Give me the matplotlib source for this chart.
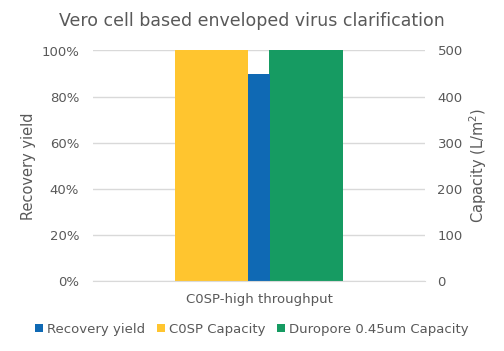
import numpy as np
import matplotlib
matplotlib.use('Agg')
import matplotlib.pyplot as plt
from matplotlib.ticker import PercentFormatter

plt.rcParams['font.family'] = 'DejaVu Sans'

# data
category = ['C0SP-high throughput']
recovery_yield = [0.90]
c0sp_capacity = [500]
durapore_capacity = [500]

c_blue = '#0F69B4'
c_yellow = '#FFC52F'
c_green = '#169B62'
c_text = '#595959'
c_grid = '#D9D9D9'

fig = plt.figure(figsize=(5.04, 3.51), dpi=100)
ax = fig.add_axes([93/504, 70/351, 332/504, 230.5/351])
ax2 = ax.twinx()

x = np.arange(len(category))

# capacity bars on the secondary axis, yield on the primary one
h2 = ax2.bar(x - 0.1425, c0sp_capacity, width=0.221, color=c_yellow, zorder=2)
h3 = ax2.bar(x + 0.1425, durapore_capacity, width=0.223, color=c_green, zorder=2)
h1 = ax.bar(x, recovery_yield, width=0.064, color=c_blue, zorder=2)

ax.set_zorder(ax2.get_zorder() + 1)
ax.patch.set_visible(False)

ax.set_xlim(-0.5, 0.5)
ax.set_ylim(0, 1.0)
ax2.set_ylim(0, 500)
ax.set_yticks(np.linspace(0, 1, 6))
ax2.set_yticks(np.arange(0, 501, 100))
ax.yaxis.set_major_formatter(PercentFormatter(1.0, decimals=0))
ax.set_xticks(x)
ax.set_xticklabels(category)

ax2.yaxis.grid(True, color=c_grid, lw=1)
ax2.set_axisbelow(True)

for a in (ax, ax2):
    for s in a.spines.values():
        s.set_visible(False)
    a.tick_params(length=0, labelsize=9.5, colors=c_text, pad=10)
ax.spines['bottom'].set_visible(True)
ax.spines['bottom'].set_color(c_grid)
ax.tick_params(axis='x', pad=9)
ax2.tick_params(axis='y', pad=9)

ax.set_ylabel('Recovery yield', fontsize=10.5, color=c_text, labelpad=4)
ax2.set_ylabel('Capacity (L/m$^2$)', fontsize=10.5, color=c_text, rotation=90, labelpad=3)

fig.suptitle('Vero cell based enveloped virus clarification', fontsize=12.5,
             color=c_text, x=0.5, y=0.965)

fig.legend([h1, h2, h3], ['Recovery yield', 'C0SP Capacity', 'Duropore 0.45um Capacity'],
           loc='center', bbox_to_anchor=(0.5, 22/351), ncol=3, frameon=False,
           fontsize=9.5, handlelength=0.6, handleheight=0.6, handletextpad=0.3,
           columnspacing=0.9, labelcolor=c_text)

fig.savefig('out.png', dpi=100)
